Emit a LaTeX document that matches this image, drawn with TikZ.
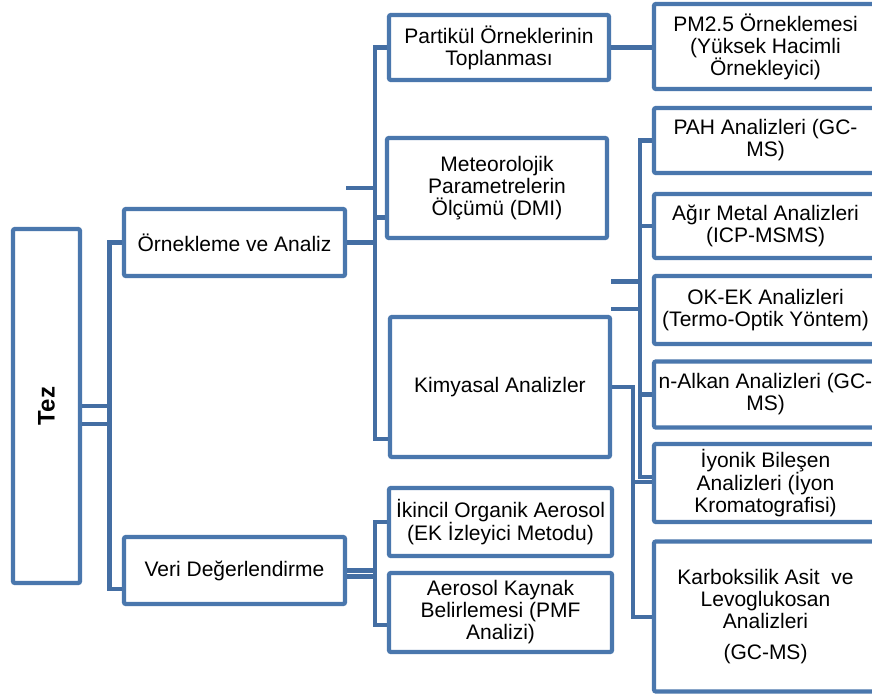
\documentclass[tikz,border=0pt]{standalone}
\usepackage{fontspec}
\setmainfont{Liberation Sans}
\definecolor{boxblue}{RGB}{74,119,173}
\definecolor{lineblue}{RGB}{68,110,163}
\begin{document}
\begin{tikzpicture}[x=1pt,y=-1pt,
  box/.style={draw=boxblue,line width=4.3pt,fill=white,rounded corners=2pt,inner sep=0pt,align=center,font=\fontsize{21}{22}\selectfont,text=black},
  conn/.style={draw=lineblue,line width=4.3pt},
  rbox/.style={box,minimum width=223pt}]
\useasboundingbox (0,0) rectangle (872,696);
\clip (0,0) rectangle (872,696);
\fill[white] (0,0) rectangle (872,696);

% level 0
\node[box,minimum width=67pt,minimum height=354pt] (tez) at (46.5,406) {};
\node[rotate=90,font=\fontsize{24}{26}\selectfont\bfseries,text=black] (teztext) at (tez.center) {Tez};

% level 1
\node[box,minimum width=221pt,minimum height=67pt] (orn) at (234.5,242.5) {Örnekleme ve Analiz};
\node[box,minimum width=221pt,minimum height=67pt] (veri) at (234.5,570.5) {Veri Değerlendirme};

% level 2
\node[box,minimum width=220pt,minimum height=65pt] (part) at (499,47.5) {Partikül Örneklerinin\\Toplanması};
\node[box,minimum width=220pt,minimum height=100pt] (met) at (497,188) {Meteorolojik\\Parametrelerin\\Ölçümü (DMI)};
\node[box,minimum width=220pt,minimum height=140pt] (kim) at (500,387) {Kimyasal Analizler};
\node[box,minimum width=223pt,minimum height=68pt] (iki) at (500.5,522) {İkincil Organik Aerosol\\(EK İzleyici Metodu)};
\node[box,minimum width=223pt,minimum height=79pt] (aer) at (500.5,612.5) {Aerosol Kaynak\\Belirlemesi (PMF\\Analizi)};

% level 3
\node[rbox,minimum height=85pt] (pm) at (765.5,46.5) {PM2.5 Örneklemesi\\(Yüksek Hacimli\\Örnekleyici)};
\node[rbox,minimum height=65pt] (pah) at (765.5,140.5) {PAH Analizleri (GC-\\MS)};
\node[rbox,minimum height=64pt] (agir) at (765.5,226) {Ağır Metal Analizleri\\(ICP-MSMS)};
\node[rbox,minimum height=68pt] (okek) at (765.5,310) {OK-EK Analizleri\\(Termo-Optik Yöntem)};
\node[rbox,minimum height=66pt] (nalk) at (765.5,394.5) {n-Alkan Analizleri (GC-\\MS)};
\node[rbox,minimum height=78pt] (iyo) at (765.5,483) {İyonik Bileşen\\Analizleri (İyon\\Kromatografisi)};
\node[rbox,minimum height=150pt] (karb) at (765.5,616.5) {Karboksilik Asit\ \ ve\\Levoglukosan\\Analizleri\\[9pt](GC-MS)};

% helper coordinates
\coordinate (trA) at (109.5,242);
\coordinate (trB) at (109.5,588.7);
\coordinate (k2) at (375,438.7);
\coordinate (m2) at (375,217.5);
\coordinate (s1) at (346,188);
\coordinate (a1) at (640,477);
\coordinate (st1) at (611,281.5);
\coordinate (st2) at (611,309);
\coordinate (b1) at (633,617);
\coordinate (b2) at (633,482);
\coordinate (v1) at (375,625);

% connectors
\draw[conn] (tez.east) -- (tez.east -| trA);
\draw[conn] ([yshift=-18pt]tez.east) -- ([yshift=-18pt]tez.east -| trA);
\draw[conn] (orn.west) -| (trB) -- (trB -| veri.west);

\draw[conn] (orn.east) -- (orn.east -| k2);
\draw[conn] (part.west) -| (k2) -- (k2 -| kim.west);
\draw[conn] (m2) -- (m2 -| met.west);
\draw[conn] (s1) -- (s1 -| m2);

\draw[conn] (part.east) -- (part.east -| pm.west);

\draw[conn] (pah.west) -| (a1) -- (a1 -| iyo.west);
\draw[conn] (agir.west) -- (agir.west -| a1);
\draw[conn] (nalk.west) -- (nalk.west -| a1);
\draw[conn] (st1) -- (st1 -| a1);
\draw[conn] (st2) -- (st2 -| a1);

\draw[conn] (kim.east) -| (b1) -- (b1 -| karb.west);
\draw[conn] (b2) -- (b2 -| iyo.west);

\draw[conn] (veri.east) -- (veri.east -| v1);
\draw[conn] ([yshift=-6pt]veri.east) -- ([yshift=-6pt]veri.east -| v1);
\draw[conn] (iki.west) -| (v1) -- (v1 -| aer.west);
\end{tikzpicture}
\end{document}
